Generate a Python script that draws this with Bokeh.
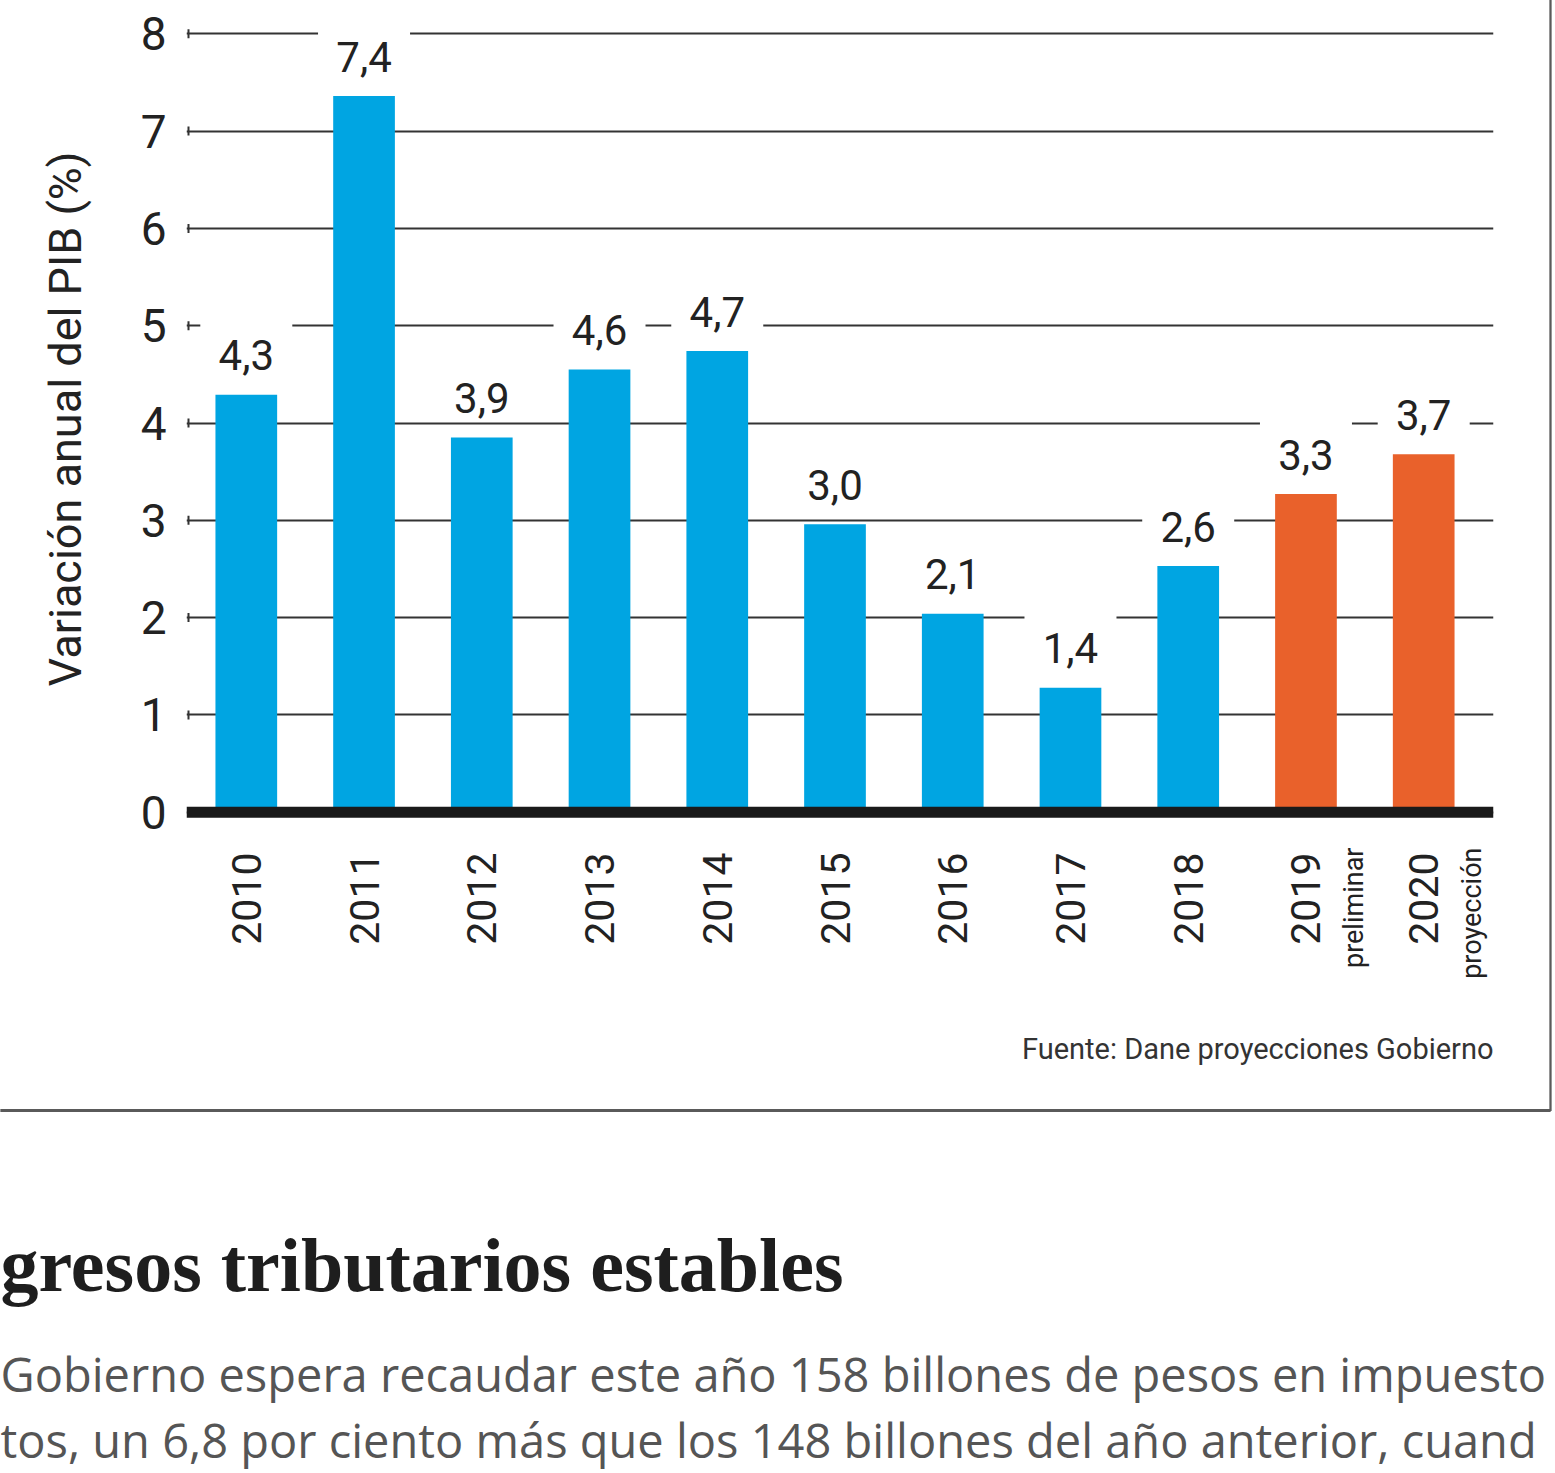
from math import pi
from bokeh.plotting import figure
from bokeh.models import Range1d, FixedTicker, Span, Label, ColumnDataSource, LinearAxis
from bokeh.core.properties import value
from bokeh.embed import file_html
from bokeh.resources import INLINE

# ---------------- data ----------------
years = ["2010", "2011", "2012", "2013", "2014", "2015", "2016", "2017", "2018", "2019", "2020"]
year_notes = ["", "", "", "", "", "", "", "", "", "preliminar", "proyección"]
gdp_growth = [4.29, 7.36, 3.85, 4.55, 4.74, 2.96, 2.04, 1.28, 2.53, 3.27, 3.68]
gdp_labels = ["4,3", "7,4", "3,9", "4,6", "4,7", "3,0", "2,1", "1,4", "2,6", "3,3", "3,7"]
series_kind = ["dato"] * 9 + ["preliminar", "proyección"]
y_ticks = [0, 1, 2, 3, 4, 5, 6, 7, 8]
y_title = "Variación anual del PIB (%)"
source_note = "Fuente: Dane proyecciones Gobierno"
headline = "gresos tributarios estables"
body_lines = [
    "Gobierno espera recaudar este año 158 billones de pesos en impuesto",
    "tos, un 6,8 por ciento más que los 148 billones del año anterior, cuand",
]

# ---------------- layout constants (canvas pixels) ----------------
W, H = 1555, 1473
FRAME_LEFT, FRAME_RIGHT, FRAME_TOP, FRAME_BOTTOM = 186, 1493, 19, 818
PX_X = 117.74           # px per category
CAT0 = 245.8            # canvas x of first category centre
PX_Y = 97.3             # px per 1 %
Y0 = 811.7              # canvas y of value 0

X_START = (FRAME_LEFT - CAT0) / PX_X
X_END = (FRAME_RIGHT - CAT0) / PX_X
Y_START = (Y0 - FRAME_BOTTOM) / PX_Y
Y_END = (Y0 - FRAME_TOP) / PX_Y


def dx(cx):
    return X_START + (cx - FRAME_LEFT) / PX_X


def dy(cy):
    return (Y0 - cy) / PX_Y


SANS = "Roboto"
BLUE = "#00A5E2"
ORANGE = "#E9612B"
INK = "#222222"
RULE = "#5a5a5a"

idx = list(range(len(years)))
colors = [BLUE if k == "dato" else ORANGE for k in series_kind]
LABEL_PX = 42
label_y = [v + (25 + 0.342 * LABEL_PX) / PX_Y for v in gdp_growth]
box_y = [v + 50 / PX_Y for v in gdp_growth]

src = ColumnDataSource(dict(x=idx, top=gdp_growth, color=colors, label=gdp_labels,
                            label_y=label_y, box_y=box_y))

p = figure(width=W, height=H, x_range=Range1d(X_START, X_END), y_range=Range1d(Y_START, Y_END),
           output_backend="svg", toolbar_location=None,
           min_border_left=FRAME_LEFT, min_border_right=W - FRAME_RIGHT,
           min_border_top=FRAME_TOP, min_border_bottom=H - FRAME_BOTTOM)
p.outline_line_color = None
p.background_fill_color = "white"
p.border_fill_color = "white"

# grid
p.xgrid.grid_line_color = None
p.ygrid.ticker = FixedTicker(ticks=y_ticks)
p.ygrid.grid_line_color = "#333333"
p.ygrid.grid_line_width = 2

# y axis
p.yaxis.ticker = FixedTicker(ticks=y_ticks)
p.yaxis.axis_line_color = None
p.yaxis.major_tick_line_color = None
p.yaxis.minor_tick_line_color = None
p.yaxis.major_tick_out = 0
p.yaxis.major_tick_in = 0
p.yaxis.major_label_standoff = 20
p.yaxis.major_label_text_font = SANS
p.yaxis.major_label_text_font_size = "46px"
p.yaxis.major_label_text_color = INK
p.yaxis.axis_label = y_title
p.yaxis.axis_label_text_font = SANS
p.yaxis.axis_label_text_font_size = "45px"
p.yaxis.axis_label_text_font_style = "normal"
p.yaxis.axis_label_text_color = INK
p.yaxis.axis_label_standoff = 46

# x axis (years)
p.xaxis.ticker = FixedTicker(ticks=idx)
p.xaxis.major_label_overrides = {i: y for i, y in zip(idx, years)}
p.xaxis.axis_line_color = None
p.xaxis.major_tick_line_color = None
p.xaxis.minor_tick_line_color = None
p.xaxis.major_tick_out = 0
p.xaxis.major_tick_in = 0
p.xaxis.major_label_orientation = pi / 2
p.xaxis.major_label_standoff = 34
p.xaxis.major_label_text_font = SANS
p.xaxis.major_label_text_font_size = "41px"
p.xaxis.major_label_text_color = INK

# second x axis: small notes beside the 2019 / 2020 years
NOTE_SHIFT = 48 / PX_X
p.extra_x_ranges = {"notes": Range1d(X_START - NOTE_SHIFT, X_END - NOTE_SHIFT)}
note_ticks = [i for i, n in zip(idx, year_notes) if n]
notes_axis = LinearAxis(x_range_name="notes", ticker=FixedTicker(ticks=note_ticks),
                        major_label_overrides={i: year_notes[i] for i in note_ticks},
                        axis_line_color=None, major_tick_line_color=None,
                        minor_tick_line_color=None, major_tick_out=0, major_tick_in=0,
                        major_label_orientation=pi / 2, major_label_standoff=-100,
                        major_label_text_font=SANS, major_label_text_font_size="27px",
                        major_label_text_color=INK)
p.add_layout(notes_axis, "below")

# small end caps at the left of grid lines
p.scatter(x=[X_START + 2 / PX_X] * len(y_ticks), y=y_ticks, marker="dash", angle=pi / 2,
          size=9, line_color="#333333", line_width=2)

# white boxes behind value labels (interrupt the grid lines)
p.rect(x="x", y="box_y", width=92, height=60, width_units="screen", height_units="screen",
       fill_color="white", line_color=None, source=src)

# bars
p.vbar(x="x", top="top", bottom=0, width=0.524, fill_color="color", line_color=None, source=src)

# value labels
p.text(x="x", y="label_y", text="label", text_align="center", text_baseline="middle",
       text_font=value(SANS), text_font_size=f"{LABEL_PX}px", text_color=INK, source=src)

# thick zero line
p.add_layout(Span(location=0, dimension="width", line_color="#1a1a1a", line_width=11))

# source
p.add_layout(Label(x=dx(FRAME_RIGHT), y=dy(1048), text=source_note, text_align="right",
                   text_baseline="middle", text_font=SANS, text_font_size="29px",
                   text_color="#333333"), "below")

# box border of the graphic (bottom and right rules)
p.add_layout(Label(x=dx(775), y=dy(1110), text=" ", text_font_size="1px",
                   text_align="center", text_baseline="middle",
                   background_fill_color=RULE,
                   padding={"left": 775, "right": 775, "top": 1, "bottom": 1}), "below")
p.add_layout(Label(x=dx(1550), y=dy(555), text=" ", text_font_size="1px",
                   text_align="center", text_baseline="middle",
                   background_fill_color=RULE,
                   padding={"left": 1, "right": 1, "top": 555, "bottom": 555}), "right")

# article text below the graphic
p.add_layout(Label(x=dx(0), y=dy(1264), text=headline, text_font="Liberation Serif",
                   text_font_style="bold", text_font_size="76px", text_color="#1e1e1e",
                   text_baseline="middle"), "below")
p.add_layout(Label(x=dx(0), y=dy(1373), text=body_lines[0], text_font="Open Sans",
                   text_font_size="47px", text_color="#555555", text_baseline="middle"),
             "below")
p.add_layout(Label(x=dx(0), y=dy(1439), text=body_lines[1], text_font="Open Sans",
                   text_font_size="47px", text_color="#555555", text_baseline="middle"),
             "below")

open("out.html", "w").write(file_html(p, INLINE))
